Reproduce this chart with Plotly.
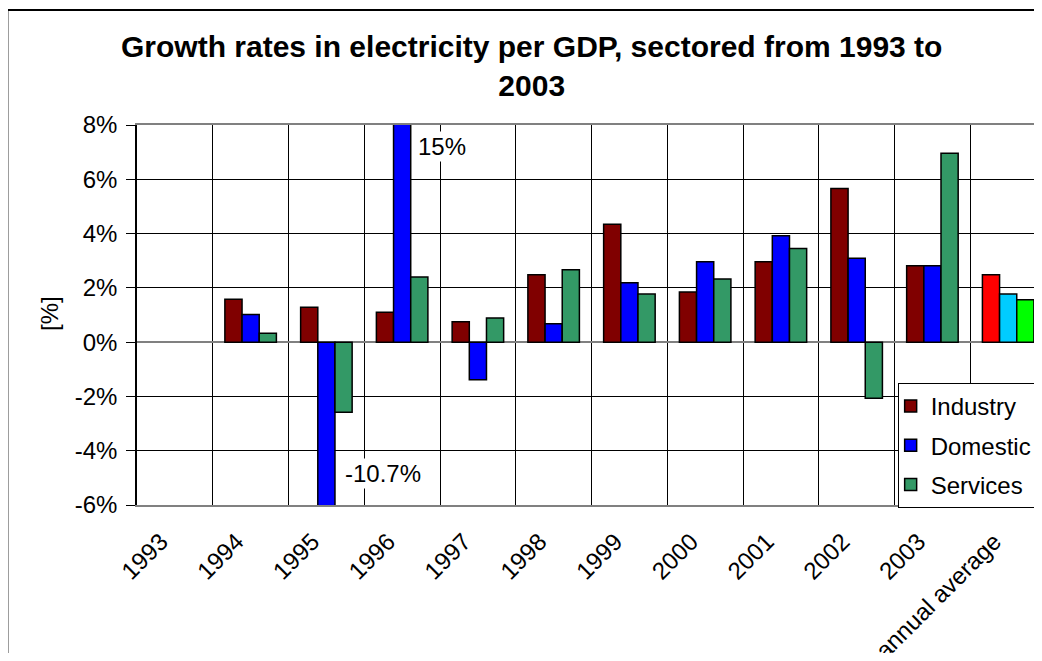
import plotly.graph_objects as go

categories = ["1993", "1994", "1995", "1996", "1997", "1998", "1999", "2000",
              "2001", "2002", "2003", "annual average"]
industry = [None, 1.58, 1.29, 1.10, 0.75, 2.48, 4.34, 1.85, 2.96, 5.66, 2.81, 2.48]
domestic = [None, 1.02, -10.7, 15.0, -1.39, 0.68, 2.19, 2.96, 3.92, 3.09, 2.81, 1.77]
services = [None, 0.33, -2.58, 2.40, 0.89, 2.67, 1.77, 2.33, 3.45, -2.07, 6.96, 1.56]

series_names = ["Industry", "Domestic", "Services"]
series_colors = ["#800000", "#0000FF", "#339966"]
average_colors = ["#FF0000", "#00CCFF", "#00FF00"]

y_ticks = [-6, -4, -2, 0, 2, 4, 6, 8]
y_min, y_max = -6, 8
title_text = "Growth rates in electricity per GDP, sectored from 1993 to<br>2003"

FONT = "Arial, Liberation Sans, sans-serif"

fig = go.Figure()
for i, (name, vals) in enumerate(zip(series_names, [industry, domestic, services])):
    colors = [series_colors[i]] * (len(categories) - 1) + [average_colors[i]]
    fig.add_trace(go.Bar(
        x=categories, y=vals, name=name, legendgroup=name,
        marker=dict(color=colors, line=dict(color="black", width=1.5)),
    ))

# data labels for clipped values
fig.add_annotation(x=categories.index("1996") + 0.52, y=7.2, text=f"{domestic[3]:.0f}%",
                   showarrow=False, bgcolor="white", font=dict(size=24, color="black", family=FONT))
fig.add_annotation(x=categories.index("1995") + 0.75, y=-4.83, text=f"{domestic[2]:.1f}%",
                   showarrow=False, bgcolor="white", font=dict(size=24, color="black", family=FONT))

# title
fig.add_annotation(xref="paper", yref="paper", x=0.44, y=1.155, xanchor="center", yanchor="middle",
                   text="<b>" + title_text + "</b>", showarrow=False,
                   font=dict(size=30, color="black", family=FONT))
# y title
fig.add_annotation(xref="paper", yref="paper", x=-0.0975, y=0.504, xanchor="center", yanchor="middle",
                   textangle=-90, text="[%]", showarrow=False,
                   font=dict(size=24, color="black", family=FONT))

# outer chart border (left and top edges visible)
border_x = -0.1445
border_y = (505 - 10) / 380
fig.add_shape(type="line", xref="paper", yref="paper", x0=border_x, x1=border_x, y0=-0.7,
              y1=border_y, line=dict(color="black", width=2), layer="below")
fig.add_shape(type="line", xref="paper", yref="paper", x0=border_x, x1=1.2, y0=border_y,
              y1=border_y, line=dict(color="black", width=2), layer="below")

fig.update_layout(
    width=1026, height=645,
    margin=dict(l=129, r=0, t=117, b=148, autoexpand=False),
    paper_bgcolor="white", plot_bgcolor="white",
    font=dict(family=FONT, size=24, color="black"),
    barmode="group", bargap=0.32, bargroupgap=0,
    showlegend=True,
    legend=dict(x=0.848, y=0.321, xanchor="left", yanchor="top",
                bordercolor="black", borderwidth=1, bgcolor="white",
                font=dict(size=24, family=FONT, color="black"),
                traceorder="grouped", tracegroupgap=5, itemwidth=30, indentation=-8),
    xaxis=dict(type="category", range=[-0.5, 11.341], tickson="boundaries",
               showgrid=True, gridcolor="black", gridwidth=1,
               showline=True, linecolor="#808080", linewidth=2, mirror=True,
               ticks="", tickangle=-45, ticklabelstandoff=11, ticklabelshift=-14,
               tickfont=dict(size=24, family=FONT, color="black")),
    yaxis=dict(range=[y_min, y_max], tickvals=y_ticks, ticktext=[f"{v}%" for v in y_ticks],
               showgrid=True, gridcolor="black", gridwidth=1,
               zeroline=True, zerolinecolor="#808080", zerolinewidth=2,
               showline=True, linecolor="black", linewidth=1.5,
               ticks="outside", ticklen=9, tickcolor="black", ticklabelstandoff=4,
               tickfont=dict(size=24, family=FONT, color="black")),
)

fig.write_html("out.html")
